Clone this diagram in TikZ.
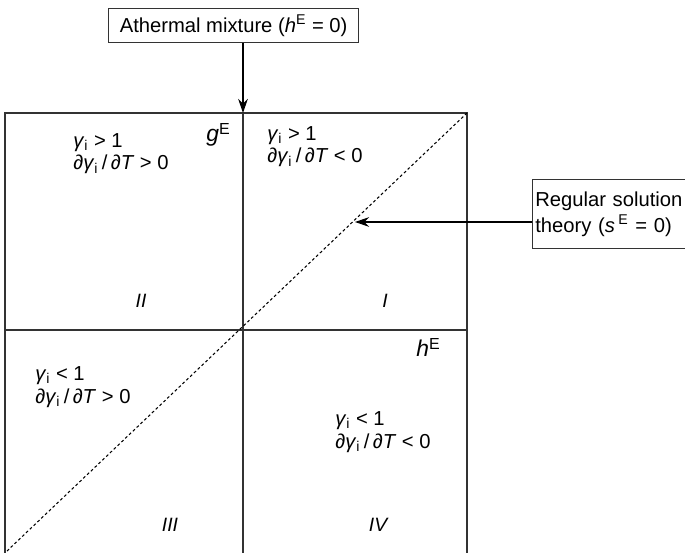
\documentclass[tikz,border=0pt]{standalone}
\usepackage{fontspec}
\setmainfont{Liberation Sans}
\usepackage{tikz}
\usetikzlibrary{arrows.meta,positioning}

\newcommand{\gi}{\textit{γ}\textsubscript{i}}
\newcommand{\dgdT}{∂\textit{γ}\textsubscript{i}\,/\,∂\textit{T}}

\begin{document}
\begin{tikzpicture}[
  x=0.02cm, y=-0.02cm,
  note/.style={draw=black!80, line width=0.7pt, font=\fontsize{11.5}{14.5}\selectfont,
               inner sep=3pt, align=left},
  quad/.style={anchor=base west, inner sep=0pt, align=left,
               font=\fontsize{11.5}{13}\selectfont},
  numeral/.style={anchor=base, inner sep=0pt, font=\fontsize{11}{12.5}\selectfont\itshape},
  axlabel/.style={anchor=base west, inner sep=0pt, font=\fontsize{13}{14}\selectfont},
  axis/.style={line width=0.7pt, black!80},
  arr/.style={-{Stealth[length=8pt, width=5.5pt]}, line width=0.7pt}
]
  \useasboundingbox (0,0) rectangle (685,553);
  % Frame and axes
  \coordinate (tl) at (5,113);
  \coordinate (tr) at (467,113);
  \coordinate (bl) at (5,560);
  \coordinate (br) at (467,560);
  \coordinate (vtop) at (243,113);
  \coordinate (vbot) at (243,560);
  \coordinate (hleft) at (5,330);
  \coordinate (hright) at (467,330);
  \coordinate (dend) at (7,551);
  \draw[axis] (bl) -- (tl) -- (tr) -- (br);
  \draw[axis] (vtop) -- (vbot);
  \draw[axis] (hleft) -- (hright);
  \draw[line width=0.6pt, dash pattern=on 1.6pt off 1.4pt] (tr) -- (dend);
  % Axis labels
  \node[axlabel] (gE) at (206,142) {\textit{g}\textsuperscript{E}};
  \node[axlabel] (hE) at (416,357) {\textit{h}\textsuperscript{E}};
  % Quadrants (base = second line)
  \node[quad] (q2) at (73,170) {\gi{} > 1\\\dgdT{} > 0};
  \node[quad] (q1) at (267,163) {\gi{} > 1\\\dgdT{} < 0};
  \node[quad] (q3) at (35,403) {\gi{} < 1\\\dgdT{} > 0};
  \node[quad] (q4) at (335,448) {\gi{} < 1\\\dgdT{} < 0};
  \node[numeral] (nII) at (141,308) {II};
  \node[numeral] (nI) at (385,308) {I};
  \node[numeral] (nIII) at (170,531) {III};
  \node[numeral] (nIV) at (378,531) {IV};
  % Callouts
  \node[note, anchor=north west, minimum width=5cm, minimum height=0.68cm]
    (athermal) at (108,8) {Athermal mixture (\textit{h}\textsuperscript{E} = 0)};
  \node[note, anchor=north west, text width=3.1cm, minimum height=1.38cm, inner sep=1.5pt]
    (regular) at (532,179) {Regular solution\\theory (\textit{s}\,\textsuperscript{E} = 0)};
  \coordinate (hit) at (355,222);
  \draw[arr] (athermal.south -| vtop) -- (vtop);
  \draw[arr] (regular.west |- hit) -- (hit);
\end{tikzpicture}
\end{document}
